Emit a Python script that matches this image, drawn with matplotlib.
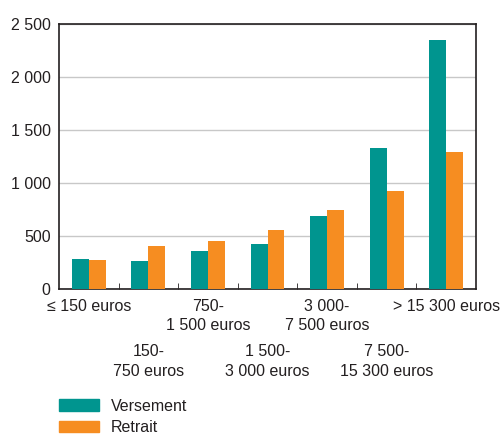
import matplotlib.pyplot as plt
import matplotlib.patches as mpatches
from matplotlib import font_manager
from matplotlib.ticker import FuncFormatter
import numpy as np

# narrow font if there is one, else Liberation Sans
names = {f.name for f in font_manager.fontManager.ttflist}
fam = 'Liberation Sans Narrow' if 'Liberation Sans Narrow' in names else 'Liberation Sans'
plt.rcParams['font.family'] = [fam, 'DejaVu Sans']

# data
categories = ['≤ 150 euros', '150-\n750 euros', '750-\n1 500 euros', '1 500-\n3 000 euros',
              '3 000-\n7 500 euros', '7 500-\n15 300 euros', '> 15 300 euros']
versement = [285, 260, 360, 420, 690, 1335, 2350]
retrait = [270, 410, 455, 555, 750, 920, 1295]

teal = '#00958F'
orange = '#F68D21'
txt = '#231F20'
fs = 12 if fam.endswith('Narrow') else 11.5

fig = plt.figure(figsize=(5, 4.37), dpi=100)
ax = fig.add_axes([0.118, 0.3387, 0.834, 0.6063])

x = np.arange(len(categories)) + 0.5
w = 0.285
ax.bar(x - w / 2, versement, w, color=teal, edgecolor='none', zorder=3)
ax.bar(x + w / 2, retrait, w, color=orange, edgecolor='none', zorder=3)

ax.set_xlim(0, len(categories))
ax.set_ylim(0, 2500)
ax.set_yticks(range(0, 2501, 500))
ax.yaxis.set_major_formatter(FuncFormatter(lambda v, p: f'{int(v):,}'.replace(',', ' ')))
ax.grid(axis='y', color='#C8C8C8', linewidth=1, zorder=0)

# category labels on two alternating rows
ax.set_xticks([])
ax.set_xticks(np.arange(1, len(categories)), minor=True)
ax.tick_params(axis='x', which='minor', direction='in', length=4, color=txt, labelbottom=False)
for i, c in enumerate(categories):
    ypos = -0.036 if i % 2 == 0 else -0.208
    ax.text(x[i], ypos, c, transform=ax.get_xaxis_transform(), ha='center', va='top',
            fontsize=fs, color=txt, linespacing=1.4, clip_on=False)

ax.tick_params(axis='y', length=0, labelsize=fs, labelcolor=txt, pad=6)

for s in ax.spines.values():
    s.set_color(txt)
    s.set_linewidth(1.2)

handles = [mpatches.Patch(color=teal, label='Versement'),
           mpatches.Patch(color=orange, label='Retrait')]
fig.legend(handles=handles, loc='upper left', bbox_to_anchor=(0.118, 0.088), frameon=False,
           fontsize=fs, handlelength=2.5, handleheight=0.75, labelspacing=0.4,
           handletextpad=0.75, borderpad=0, borderaxespad=0, labelcolor=txt)

fig.savefig('out.png', dpi=100)
